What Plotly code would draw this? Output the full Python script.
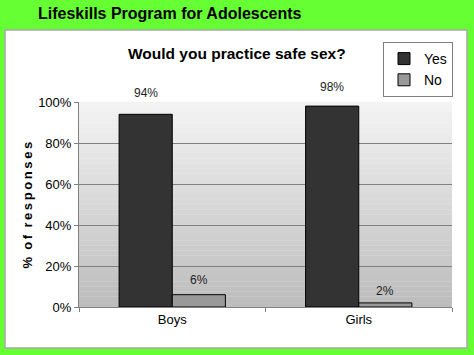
import plotly.graph_objects as go

categories = ["Boys", "Girls"]
yes_values = [94, 98]
no_values = [6, 2]
series_names = ["Yes", "No"]
tick_values = [0, 20, 40, 60, 80, 100]
tick_labels = ["0%", "20%", "40%", "60%", "80%", "100%"]

FONT = "Liberation Sans, Arial, sans-serif"

W, H = 474, 355
ml, mr, mt, mb = 79, 22, 102, 48
pw = W - ml - mr
ph = H - mt - mb

def px_x(x):
    return (x - ml) / pw

def px_y(y):
    return (H - mb - y) / ph

bargap = 0.43

fig = go.Figure()
fig.add_trace(go.Bar(x=categories, y=yes_values, name=series_names[0],
                     marker=dict(color="#333333", line=dict(color="#000000", width=1))))
fig.add_trace(go.Bar(x=categories, y=no_values, name=series_names[1],
                     marker=dict(color="#999999", line=dict(color="#000000", width=1))))

shapes = []
# white panel
shapes.append(dict(type="rect", xref="paper", yref="paper",
                   x0=px_x(5), x1=px_x(467), y0=px_y(348), y1=px_y(30),
                   fillcolor="white", line=dict(color="#a8a8a8", width=1.5), layer="below"))
# gradient plot background
n = 40
top = (244, 244, 244)
bot = (188, 188, 188)
for i in range(n):
    t = (i + 0.5) / n
    c = tuple(int(round(top[k] + (bot[k] - top[k]) * t)) for k in range(3))
    shapes.append(dict(type="rect", xref="x domain", yref="y domain",
                       x0=0, x1=1, y0=1 - (i + 1) / n, y1=1 - i / n + 0.001,
                       fillcolor="rgb(%d,%d,%d)" % c, line=dict(width=0), layer="below"))

annotations = []
annotations.append(dict(text="<b>Lifeskills Program for Adolescents</b>", xref="paper", yref="paper",
                        x=px_x(36), y=px_y(13), xanchor="left", yanchor="middle", showarrow=False,
                        font=dict(family=FONT, size=16, color="#000000")))
annotations.append(dict(text="<b>Would you practice safe sex?</b>", xref="paper", yref="paper",
                        x=px_x(237), y=px_y(53), xanchor="center", yanchor="middle", showarrow=False,
                        font=dict(family=FONT, size=15.5, color="#000000")))
ytitle = "\u2009".join(list("%")) + "  " + "\u2009".join(list("of")) + "  " + "\u2009".join(list("responses"))
annotations.append(dict(text="<b>" + ytitle + "</b>", xref="paper", yref="paper",
                        x=px_x(27), y=0.5, xanchor="center", yanchor="middle", showarrow=False,
                        textangle=-90, font=dict(family=FONT, size=13, color="#000000")))

half = (1 - bargap) / 4
shifts_yes = [12, 10]
shifts_no = [6, 3]
for i, cat in enumerate(categories):
    annotations.append(dict(text=f"{yes_values[i]}%", x=i - half, y=yes_values[i], xref="x", yref="y",
                            yanchor="bottom", yshift=shifts_yes[i], showarrow=False,
                            font=dict(family=FONT, size=12, color="#222222")))
    annotations.append(dict(text=f"{no_values[i]}%", x=i + half, y=no_values[i], xref="x", yref="y",
                            yanchor="bottom", yshift=shifts_no[i], showarrow=False,
                            font=dict(family=FONT, size=12, color="#222222")))

fig.update_layout(
    width=W, height=H,
    margin=dict(l=ml, r=mr, t=mt, b=mb),
    paper_bgcolor="#66FF33",
    plot_bgcolor="rgba(0,0,0,0)",
    barmode="group", bargap=bargap, bargroupgap=0,
    showlegend=True,
    legend=dict(x=px_x(453), y=px_y(42), xanchor="right", yanchor="top",
                bgcolor="white", bordercolor="#808080", borderwidth=1,
                font=dict(family=FONT, size=14, color="#000000"),
                itemwidth=30, tracegroupgap=0),
    shapes=shapes,
    annotations=annotations,
    font=dict(family=FONT, color="#000000"),
)
fig.update_xaxes(type="category", showline=True, linecolor="#808080", linewidth=1,
                 ticks="outside", tickson="boundaries", ticklen=4, tickcolor="#808080",
                 tickfont=dict(family=FONT, size=13, color="#000000"), showgrid=False)
fig.update_yaxes(range=[0, 100], tickvals=tick_values, ticktext=tick_labels,
                 showline=True, linecolor="#808080", linewidth=1,
                 ticks="outside", ticklen=4, tickcolor="#808080",
                 showgrid=True, gridcolor="#808080", gridwidth=1, zeroline=False,
                 tickfont=dict(family=FONT, size=13, color="#000000"))

fig.write_html("out.html", config={"displayModeBar": False},
               post_script="document.body.style.margin='0';document.body.style.padding='0';document.body.style.overflow='hidden';")
